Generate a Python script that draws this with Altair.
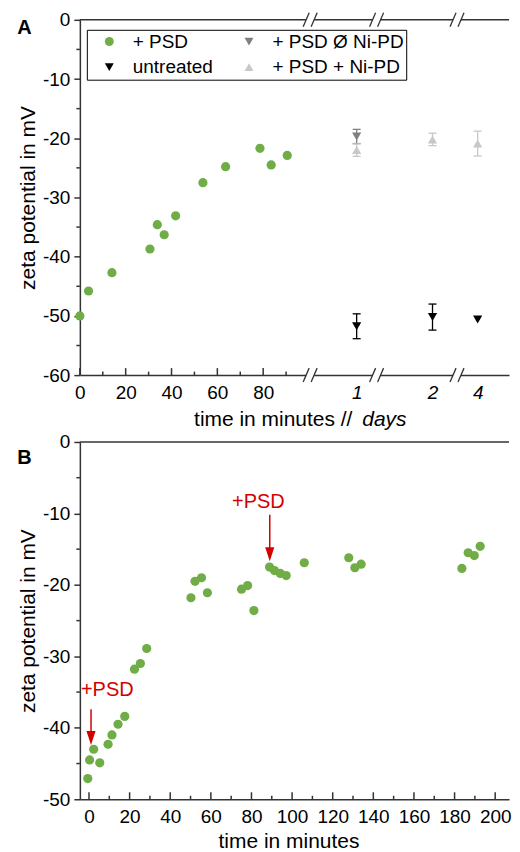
import altair as alt
import pandas as pd

FONT = "Liberation Sans"
GREEN = "#70ad47"
DARK_GREY = "#808080"
LIGHT_GREY = "#c8c8c8"
BLACK = "#000000"
RED = "#d40000"
AXIS_COLOR = "#333333"

W = 430
HA = 356
HB = 358

# ---------------- Panel A data ----------------
a_minutes = [0, 3.8, 14, 30.6, 33.8, 36.8, 41.8, 53.7, 63.6, 78.6, 83.5, 90.5]
a_zeta = [-50.0, -45.8, -42.7, -38.7, -34.6, -36.3, -33.1, -27.5, -24.8, -21.7, -24.5, -22.9]

days = [1, 2, 4]
day_axis_pos = [120.8, 153.9, 173.6]      # where each day sits on the broken axis

untreated_days = [1, 2, 4]
untreated_zeta = [-51.75, -50.2, -50.6]
untreated_err = [2.1, 2.2, 0.0]

noni_days = [1]
noni_zeta = [-19.7]
noni_err = [1.2]

ni_days = [1, 2, 4]
ni_zeta = [-22.0, -20.2, -20.9]
ni_err = [1.05, 1.05, 2.1]

a_breaks = [100.5, 129.5, 164.6]
a_x_major = [0, 20, 40, 60, 80]
a_x_minor = [10, 30, 50, 70, 90]
a_y_major = [-60, -50, -40, -30, -20, -10, 0]
a_y_minor = [-55, -45, -35, -25, -15, -5]

# legend fills column by column
series_order = ["+ PSD", "untreated", "+ PSD Ø Ni-PD", "+ PSD + Ni-PD"]
series_colors = [GREEN, BLACK, DARK_GREY, LIGHT_GREY]
series_shapes = ["circle", "triangle-down", "triangle-down", "triangle-up"]

# ---------------- Panel B data ----------------
b_minutes = [-0.6, 0.3, 2.3, 5.3, 9.4, 11.3, 14.3, 17.6, 22.4, 25.3, 28.4,
             50.2, 52.2, 55.4, 58.3, 75.1, 78.1, 81.2, 88.9, 91.3, 94.2, 97.1,
             106.0, 127.9, 130.9, 134.0, 183.6, 186.7, 189.7, 192.6]
b_zeta = [-47.1, -44.5, -43.0, -44.9, -42.3, -41.0, -39.5, -38.4, -31.8, -31.0, -28.9,
          -21.8, -19.5, -19.0, -21.1, -20.6, -20.1, -23.6, -17.5, -18.0, -18.4, -18.7,
          -16.9, -16.2, -17.6, -17.1, -17.7, -15.5, -15.9, -14.6]

psd_add_min = [1, 89]
psd_label = ["+PSD", "+PSD"]
psd_label_x = [9, 83.4]
psd_label_y = [-34.7, -8.4]
psd_arrow_top = [-37.4, -10.2]
psd_arrow_tip = [-42.4, -16.7]

b_x_major = list(range(0, 201, 20))
b_x_minor = list(range(10, 200, 20))
b_y_major = [-50, -40, -30, -20, -10, 0]
b_y_minor = [-45, -35, -25, -15, -5]

# ---------------- frames ----------------
pos = dict(zip(days, day_axis_pos))
rows = [(m, z, "+ PSD") for m, z in zip(a_minutes, a_zeta)]
rows += [(pos[d], z, "untreated") for d, z in zip(untreated_days, untreated_zeta)]
rows += [(pos[d], z, "+ PSD Ø Ni-PD") for d, z in zip(noni_days, noni_zeta)]
rows += [(pos[d], z, "+ PSD + Ni-PD") for d, z in zip(ni_days, ni_zeta)]
df_a = pd.DataFrame(rows, columns=["x", "y", "series"])

err_sets = [(untreated_days, untreated_zeta, untreated_err, BLACK),
            (noni_days, noni_zeta, noni_err, DARK_GREY),
            (ni_days, ni_zeta, ni_err, LIGHT_GREY)]

color_scale = alt.Scale(domain=series_order, range=series_colors)
shape_scale = alt.Scale(domain=series_order, range=series_shapes)

day_expr = " : ".join(f"datum.value == {p} ? '{d}'" for d, p in zip(days, day_axis_pos))
x_axis_a = alt.Axis(values=a_x_major + day_axis_pos, ticks=False, tickSize=0, labelPadding=8,
                    labelExpr=day_expr + " : '' + datum.value", labelOverlap=False, labelFlush=False,
                    title=None,
                    labelFontStyle={"condition": {"test": "datum.value > 100", "value": "italic"},
                                    "value": "normal"})
y_axis_a = alt.Axis(values=a_y_major, tickSize=6, labelPadding=4, labelExpr="'' + datum.value",
                    title="zeta potential in mV", titlePadding=4, labelFlush=False)

x_dom_a = [0, W / 2.296]


def xA(f):
    return alt.X(f, type="quantitative", scale=alt.Scale(domain=x_dom_a, nice=False, zero=False), axis=x_axis_a)


def yA(f):
    return alt.Y(f, type="quantitative", scale=alt.Scale(domain=[-60, 0], nice=False, zero=False), axis=y_axis_a)


legend_a = alt.Legend(title=None, orient="none", legendX=7, legendY=10, columns=2,
                      strokeColor="black", fillColor="white", padding=2,
                      labelFont=FONT, labelFontSize=19, labelColor="black",
                      symbolSize=80, symbolStrokeWidth=0, labelOffset=14,
                      columnPadding=15, rowPadding=6, symbolOffset=11)

pts_a = alt.Chart(df_a).mark_point(filled=True, size=85, opacity=1, strokeWidth=0).encode(
    x=xA("x"), y=yA("y"),
    color=alt.Color("series:N", scale=color_scale, legend=legend_a),
    shape=alt.Shape("series:N", scale=shape_scale, legend=legend_a),
)

top_a = alt.Chart(pd.DataFrame({"v": [0]})).mark_rule(color=AXIS_COLOR, strokeWidth=1.5).encode(
    x=alt.value(0), x2=alt.value(W), y=yA("v"))

brk_df = pd.DataFrame({"x": a_breaks * 2, "y": [0] * len(a_breaks) + [-60] * len(a_breaks)})
gaps = alt.Chart(brk_df).mark_rule(color="white", strokeWidth=5, xOffset=-4, x2Offset=4).encode(
    x=xA("x"), x2=alt.X2("x"), y=yA("y"), y2=alt.Y2("y"))
slash1 = alt.Chart(brk_df).mark_rule(color=AXIS_COLOR, strokeWidth=1.3, xOffset=-7, x2Offset=-1,
                                     yOffset=7, y2Offset=-7).encode(
    x=xA("x"), x2=alt.X2("x"), y=yA("y"), y2=alt.Y2("y"))
slash2 = alt.Chart(brk_df).mark_rule(color=AXIS_COLOR, strokeWidth=1.3, xOffset=1, x2Offset=7,
                                     yOffset=7, y2Offset=-7).encode(
    x=xA("x"), x2=alt.X2("x"), y=yA("y"), y2=alt.Y2("y"))

tmaj_a = alt.Chart(pd.DataFrame({"t": a_x_major})).mark_rule(color=AXIS_COLOR, strokeWidth=1.5).encode(
    x=xA("t"), y=alt.value(HA), y2=alt.value(HA - 7))
tmin_a = alt.Chart(pd.DataFrame({"t": a_x_minor})).mark_rule(color=AXIS_COLOR, strokeWidth=1.5).encode(
    x=xA("t"), y=alt.value(HA), y2=alt.value(HA - 3.5))
ymin_a = alt.Chart(pd.DataFrame({"t": a_y_minor})).mark_rule(color=AXIS_COLOR, strokeWidth=1.5).encode(
    y=yA("t"), x=alt.value(0), x2=alt.value(-3.5))

err_layers = []
for ds, zs, es, col in err_sets:
    dfe = pd.DataFrame({"x": [pos[d] for d, e in zip(ds, es) if e > 0],
                        "lo": [z - e for z, e in zip(zs, es) if e > 0],
                        "hi": [z + e for z, e in zip(zs, es) if e > 0]})
    err_layers.append(alt.Chart(dfe).mark_rule(strokeWidth=1.3, color=col).encode(
        x=xA("x"), y=yA("lo"), y2=alt.Y2("hi")))
    err_layers.append(alt.Chart(dfe).mark_rule(strokeWidth=1.3, color=col, xOffset=-4, x2Offset=4).encode(
        x=xA("x"), x2=alt.X2("x"), y=yA("lo")))
    err_layers.append(alt.Chart(dfe).mark_rule(strokeWidth=1.3, color=col, xOffset=-4, x2Offset=4).encode(
        x=xA("x"), x2=alt.X2("x"), y=yA("hi")))

xt1 = alt.Chart(pd.DataFrame({"t": ["time in minutes  //"]})).mark_text(
    font=FONT, fontSize=21, align="right", baseline="middle", color="black").encode(
    x=alt.value(273), y=alt.value(HA + 45), text="t")
xt2 = alt.Chart(pd.DataFrame({"t": ["days"]})).mark_text(
    font=FONT, fontSize=21, align="left", baseline="middle", fontStyle="italic", color="black").encode(
    x=alt.value(283), y=alt.value(HA + 45), text="t")
lab_a = alt.Chart(pd.DataFrame({"t": ["A"]})).mark_text(
    font=FONT, fontSize=20, fontWeight="bold", align="center", baseline="middle", color="black").encode(
    x=alt.value(-55.5), y=alt.value(8), text="t")

chart_a = alt.layer(pts_a, top_a, tmaj_a, tmin_a, ymin_a, gaps, slash1, slash2,
                    *err_layers, xt1, xt2, lab_a).properties(width=W, height=HA)

# ---------------- Panel B ----------------
x_dom_b = [-4.5, -4.5 + W / 2.035]
x_axis_b = alt.Axis(values=b_x_major, ticks=False, tickSize=0, labelPadding=8, labelOverlap=False,
                    labelFlush=False, title="time in minutes", titleX=209, titlePadding=4)
y_axis_b = alt.Axis(values=b_y_major, tickSize=6, labelPadding=4, labelExpr="'' + datum.value",
                    title="zeta potential in mV", titlePadding=4, labelFlush=False)


def xB(f):
    return alt.X(f, type="quantitative", scale=alt.Scale(domain=x_dom_b, nice=False, zero=False), axis=x_axis_b)


def yB(f):
    return alt.Y(f, type="quantitative", scale=alt.Scale(domain=[-50, 0], nice=False, zero=False), axis=y_axis_b)


df_b = pd.DataFrame({"x": b_minutes, "y": b_zeta})
df_ann = pd.DataFrame({"x": psd_add_min, "lx": psd_label_x, "ly": psd_label_y, "t": psd_label,
                       "top": psd_arrow_top, "tip": psd_arrow_tip})

pts_b = alt.Chart(df_b).mark_circle(size=85, color=GREEN, opacity=1).encode(x=xB("x"), y=yB("y"))
top_b = alt.Chart(pd.DataFrame({"v": [0]})).mark_rule(color=AXIS_COLOR, strokeWidth=1.5).encode(
    x=alt.value(0), x2=alt.value(W), y=yB("v"))
tmaj_b = alt.Chart(pd.DataFrame({"t": b_x_major})).mark_rule(color=AXIS_COLOR, strokeWidth=1.5).encode(
    x=xB("t"), y=alt.value(HB), y2=alt.value(HB - 7))
tmin_b = alt.Chart(pd.DataFrame({"t": b_x_minor})).mark_rule(color=AXIS_COLOR, strokeWidth=1.5).encode(
    x=xB("t"), y=alt.value(HB), y2=alt.value(HB - 3.5))
ymin_b = alt.Chart(pd.DataFrame({"t": b_y_minor})).mark_rule(color=AXIS_COLOR, strokeWidth=1.5).encode(
    y=yB("t"), x=alt.value(0), x2=alt.value(-3.5))

shaft = alt.Chart(df_ann).mark_rule(color=RED, strokeWidth=1.5, y2Offset=-10).encode(
    x=xB("x"), y=yB("top"), y2=alt.Y2("tip"))
head = alt.Chart(df_ann).mark_point(shape="M-0.65,-1L0.65,-1L0,1Z", size=196, filled=True,
                                    color=RED, opacity=1, strokeWidth=0, yOffset=-7).encode(
    x=xB("x"), y=yB("tip"))
ann_txt = alt.Chart(df_ann).mark_text(font=FONT, fontSize=20, color=RED, align="center",
                                      baseline="middle").encode(x=xB("lx"), y=yB("ly"), text="t")
lab_b = alt.Chart(pd.DataFrame({"t": ["B"]})).mark_text(
    font=FONT, fontSize=20, fontWeight="bold", align="center", baseline="middle", color="black").encode(
    x=alt.value(-55.5), y=alt.value(16.4), text="t")

chart_b = alt.layer(pts_b, top_b, tmaj_b, tmin_b, ymin_b, shaft, head, ann_txt, lab_b).properties(
    width=W, height=HB)

chart = alt.vconcat(chart_a, chart_b, spacing=3).properties(
    padding={"top": 2, "left": 9, "right": 0, "bottom": 0}
).configure_view(stroke=None).configure_axis(
    labelFont=FONT, labelFontSize=19, labelColor="black",
    titleFont=FONT, titleFontSize=21, titleColor="black", titleFontWeight="normal",
    domainColor=AXIS_COLOR, domainWidth=1.5, tickColor=AXIS_COLOR, tickWidth=1.5, grid=False,
)

chart.save("out.html", embed_options={"renderer": "svg", "actions": False})
